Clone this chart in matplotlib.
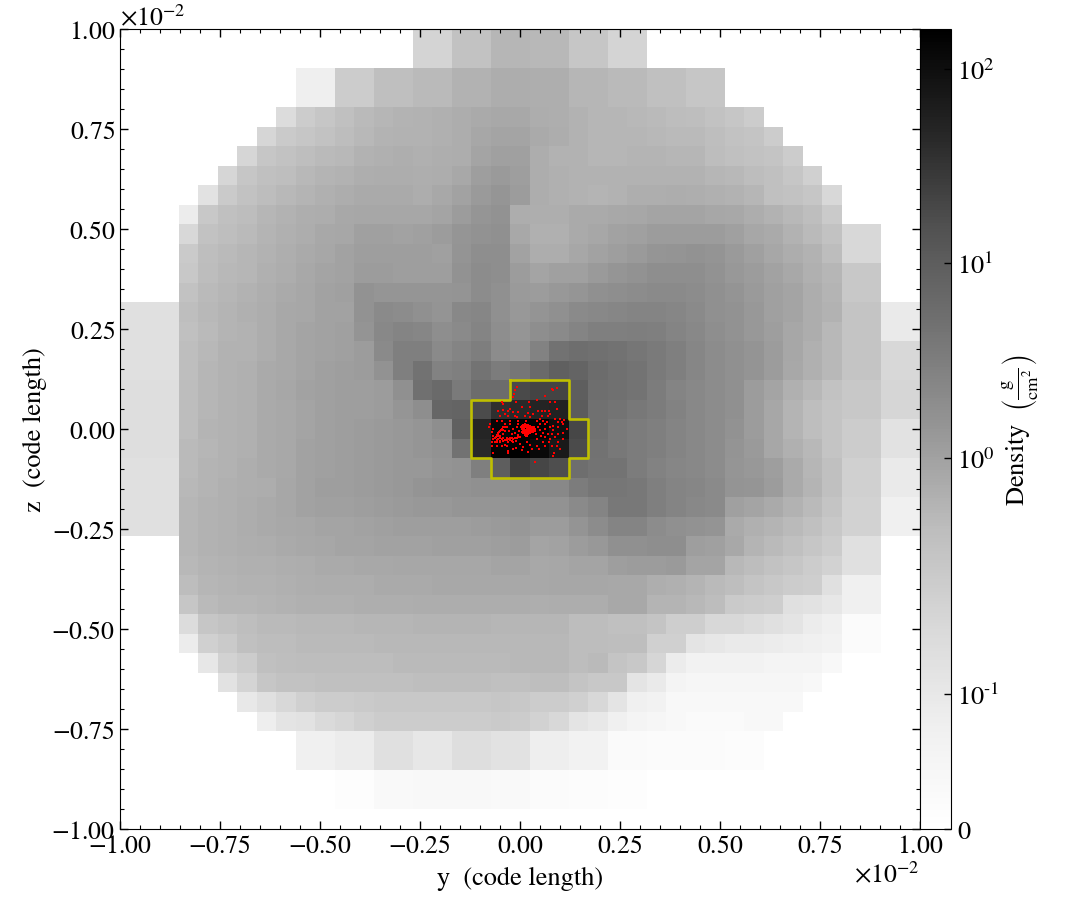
import numpy as np
import matplotlib
matplotlib.use("Agg")
import matplotlib.pyplot as plt
from matplotlib.colors import SymLogNorm

plt.rcParams["font.family"] = ["STIXGeneral", "DejaVu Serif"]
plt.rcParams["mathtext.fontset"] = "stix"

# first filled column of each of the 41 rows (rest of the row is blank)
first_col = [15, 15, 9, 9, 8, 7, 6, 5, 4, 3, 3, 3, 3, 3,
             0, 0, 0, 0, 0, 0, 0, 0, 0, 0, 0, 0,
             3, 3, 3, 3, 3, 3, 4, 5, 6, 7, 9, 9, 11, 11, 0]

# grey level of each cell as seen on the colour bar, top row first
shade = [
    [0xCF,0xCF,0xBE,0xBE,0xB2,0xB2,0xB4,0xB4,0xC2,0xC2,0xD0,0xD0],
    [0xCF,0xCF,0xBE,0xBE,0xB2,0xB2,0xB4,0xB4,0xC2,0xC2,0xD0,0xD0],
    [0xEF,0xEF,0xC8,0xC8,0xBB,0xBB,0xB6,0xB6,0xAE,0xAE,0xA8,0xA8,0xAA,0xAA,0xB2,0xB2,0xB6,0xB6,0xBC,0xBC,0xC2,0xC2],
    [0xEF,0xEF,0xC8,0xC8,0xBB,0xBB,0xB6,0xB6,0xAE,0xAE,0xA8,0xA8,0xAA,0xAA,0xB2,0xB2,0xB6,0xB6,0xBC,0xBC,0xC2,0xC2],
    [0xD8,0xC8,0xC2,0xBC,0xB6,0xB2,0xAF,0xAE,0xAC,0xA8,0xA6,0xA4,0xA4,0xA8,0xAA,0xAE,0xB2,0xB2,0xB4,0xB6,0xB8,0xBA,0xBE,0xC2,0xC8],
    [0xD2,0xC6,0xC2,0xBE,0xB8,0xB3,0xAF,0xAE,0xAD,0xAC,0xA8,0xA2,0xA0,0xA0,0xA6,0xA8,0xAE,0xB2,0xB2,0xB2,0xB4,0xB6,0xB6,0xBA,0xBE,0xC0,0xC8],
    [0xD2,0xC2,0xBE,0xBA,0xB6,0xB3,0xAE,0xAC,0xAA,0xAC,0xAA,0xA8,0xA0,0x9C,0x9C,0xA8,0xAE,0xAE,0xB2,0xB2,0xB0,0xB0,0xB2,0xB2,0xB8,0xBC,0xBE,0xC0,0xC8],
    [0xD2,0xC2,0xBC,0xBA,0xB4,0xB0,0xAE,0xAA,0xA8,0xA8,0xAA,0xA8,0xA4,0x9A,0x96,0x9A,0xA8,0xAC,0xAE,0xAE,0xAE,0xAE,0xAE,0xAE,0xAE,0xB2,0xB4,0xB8,0xBC,0xC2,0xCC],
    [0xE2,0xC6,0xBE,0xB8,0xB4,0xB0,0xAC,0xA8,0xA6,0xA6,0xA6,0xA8,0xA4,0x9E,0x96,0x92,0x98,0xA8,0xAC,0xAE,0xB0,0xAE,0xAA,0xAA,0xA8,0xAA,0xAC,0xAE,0xB2,0xBC,0xBE,0xC2,0xD4],
    [0xEC,0xC4,0xBC,0xB8,0xB2,0xAE,0xAA,0xA8,0xA4,0xA2,0xA2,0xA2,0xA2,0xA0,0x98,0x92,0x8E,0xA8,0xAA,0xAA,0xA6,0xA6,0xA4,0xA2,0xA0,0xA0,0xA0,0xA2,0xA4,0xA8,0xAE,0xB4,0xBA,0xC6],
    [0xD4,0xBE,0xBA,0xB6,0xB0,0xAC,0xA8,0xA4,0xA2,0x9C,0x9C,0x9E,0x9C,0x98,0x92,0x8E,0x8C,0xA4,0xAC,0xAC,0xA6,0xA2,0x9E,0x9C,0x98,0x98,0x98,0x98,0x9C,0xA2,0xA6,0xAE,0xB6,0xBE,0xD4,0xD4],
    [0xC6,0xBA,0xB6,0xB2,0xAE,0xAA,0xA6,0xA2,0x9E,0x9A,0x9A,0x9A,0x9A,0x9C,0x90,0x8A,0x8A,0x9E,0xA8,0xA8,0xA2,0x9E,0x9A,0x96,0x92,0x90,0x8E,0x90,0x96,0x9C,0xA2,0xA8,0xAE,0xB8,0xD4,0xD4],
    [0xC4,0xB8,0xB4,0xB2,0xAC,0xA8,0xA4,0xA0,0x9E,0x98,0x98,0x9A,0x9A,0x9A,0x8E,0x88,0x8A,0x98,0xA0,0x9C,0x9C,0x96,0x92,0x8E,0x8A,0x8A,0x8A,0x8E,0x94,0x98,0x9E,0xA4,0xAC,0xB2,0xC4,0xC4],
    [0xBE,0xB6,0xB2,0xAE,0xAA,0xA6,0xA2,0x9E,0x9C,0x8E,0x92,0x92,0x92,0x92,0x90,0x88,0x8C,0x96,0x98,0x94,0x92,0x8C,0x8A,0x88,0x86,0x86,0x88,0x8C,0x90,0x96,0x9C,0xA0,0xA8,0xB0,0xC4,0xC4],
    [0xE0,0xE0,0xE0,0xBA,0xB4,0xB0,0xAC,0xA8,0xA4,0xA2,0x9E,0x9E,0x8E,0x86,0x88,0x8C,0x90,0x84,0x82,0x8C,0x94,0x90,0x8C,0x86,0x84,0x82,0x80,0x80,0x82,0x86,0x8C,0x8E,0x94,0x9C,0xA0,0xA8,0xAE,0xC0,0xC0,0xEA,0xEA],
    [0xE0,0xE0,0xE0,0xBC,0xB6,0xB0,0xAE,0xA8,0xA4,0xA0,0x9E,0x9C,0x90,0x84,0x80,0x82,0x8A,0x86,0x80,0x8A,0x92,0x8A,0x86,0x80,0x7C,0x7C,0x7A,0x7C,0x80,0x84,0x8A,0x8E,0x94,0x9A,0xA2,0xA8,0xB4,0xC0,0xC0,0xEA,0xEA],
    [0xE0,0xE0,0xE0,0xBA,0xB4,0xAE,0xAE,0xA8,0xA4,0xA0,0x9E,0x9C,0x98,0x86,0x7C,0x7C,0x86,0x80,0x7A,0x88,0x8E,0x7E,0x6E,0x6A,0x6C,0x6E,0x72,0x76,0x7C,0x82,0x88,0x8C,0x90,0x98,0xA2,0xAC,0xB4,0xC0,0xC0,0xD4,0xD4],
    [0xE0,0xE0,0xE0,0xBA,0xB2,0xAE,0xAC,0xA6,0xA4,0xA0,0x9C,0x9A,0x98,0x8E,0x7C,0x6E,0x7E,0x7C,0x70,0x78,0x72,0x66,0x5C,0x60,0x68,0x6C,0x70,0x76,0x7C,0x82,0x88,0x8C,0x90,0x98,0xA4,0xAC,0xB4,0xC0,0xC0,0xD4,0xD4],
    [0xDA,0xDA,0xDA,0xB8,0xB2,0xAE,0xAC,0xA6,0xA2,0x9E,0x9C,0x9A,0x9A,0x98,0x8C,0x6C,0x66,0x76,0x68,0x68,0x4A,0x44,0x44,0x5A,0x6A,0x6C,0x70,0x78,0x80,0x84,0x88,0x8C,0x98,0xA0,0xAC,0xB4,0xBE,0xC4,0xC4,0xD2,0xD2],
    [0xDA,0xDA,0xDA,0xB8,0xB2,0xAE,0xAC,0xA6,0xA4,0xA0,0x9C,0x9A,0x9A,0x98,0x92,0x8A,0x62,0x60,0x4C,0x30,0x2A,0x24,0x22,0x58,0x6C,0x70,0x74,0x78,0x7E,0x84,0x88,0x8C,0x98,0xA2,0xB0,0xBA,0xC0,0xC4,0xC4,0xD2,0xD2],
    [0xDA,0xDA,0xDA,0xB8,0xB0,0xAE,0xAC,0xA6,0xA4,0xA0,0x9C,0x9A,0x98,0x96,0x94,0x92,0x8A,0x5C,0x26,0x06,0x00,0x02,0x10,0x48,0x6C,0x74,0x78,0x7C,0x80,0x84,0x88,0x8E,0x98,0xA2,0xB0,0xBA,0xC0,0xC8,0xC8,0xE2,0xE2],
    [0xDA,0xDA,0xDA,0xB6,0xB2,0xAE,0xAC,0xA6,0xA4,0x9E,0x9C,0x9A,0x98,0x96,0x94,0x92,0x8E,0x6E,0x2A,0x04,0x00,0x0A,0x1A,0x4C,0x6E,0x74,0x78,0x7C,0x80,0x84,0x88,0x90,0x96,0xA2,0xAC,0xB4,0xC0,0xC8,0xC8,0xE2,0xE2],
    [0xE0,0xE0,0xE0,0xB6,0xB0,0xAE,0xAA,0xA6,0xA4,0x9E,0x9C,0x9A,0x98,0x96,0x94,0x94,0x90,0x8E,0x7C,0x5A,0x3E,0x46,0x4E,0x6A,0x70,0x70,0x78,0x7E,0x82,0x84,0x88,0x92,0x94,0x9A,0xA6,0xB2,0xBC,0xCC,0xCC,0xEA,0xEA],
    [0xE0,0xE0,0xE0,0xB4,0xB0,0xAC,0xAA,0xA8,0xA2,0x9E,0x9A,0x9A,0x98,0x96,0x94,0x90,0x8E,0x8E,0x8C,0x8C,0x8C,0x84,0x84,0x78,0x72,0x72,0x74,0x7C,0x80,0x82,0x86,0x90,0x92,0x98,0xA6,0xB0,0xBC,0xCC,0xCC,0xEA,0xEA],
    [0xE0,0xE0,0xE0,0xB2,0xAE,0xAC,0xA8,0xA6,0xA2,0x9E,0x9C,0x9C,0x9A,0x98,0x96,0x94,0x94,0x92,0x92,0x92,0x90,0x8E,0x8E,0x86,0x80,0x74,0x74,0x7C,0x80,0x84,0x86,0x9C,0xA0,0xA6,0xAE,0xB6,0xC0,0xCE,0xCE,0xF0,0xF0],
    [0xE0,0xE0,0xE0,0xB2,0xAE,0xAC,0xA8,0xA6,0xA4,0xA2,0xA0,0xA0,0x9E,0x9C,0x9A,0x9A,0x9A,0x9A,0x98,0x96,0x94,0x98,0x98,0x90,0x88,0x80,0x80,0x88,0x8C,0x8E,0x90,0xA6,0xAC,0xB0,0xB6,0xBC,0xC4,0xCE,0xCE,0xF0,0xF0],
    [0xB2,0xAE,0xAC,0xAA,0xA8,0xA6,0xA4,0xA2,0xA0,0xA0,0x9E,0x9E,0x9E,0x9C,0x9C,0x9C,0x9A,0x98,0xA0,0x9E,0x98,0x94,0x8C,0x8C,0x8A,0x8A,0x9A,0x9C,0xA4,0xB0,0xB6,0xBC,0xC2,0xC8,0xE0,0xE0],
    [0xB4,0xB0,0xAE,0xAC,0xAC,0xAA,0xA8,0xA6,0xA6,0xA4,0xA4,0xA2,0xA2,0xA2,0xA2,0xA2,0xA0,0xA0,0xA4,0xA2,0xA0,0xA0,0x9A,0x98,0x98,0x96,0xA0,0xA0,0xB4,0xB8,0xBE,0xC2,0xC8,0xCE,0xE0,0xE0],
    [0xB8,0xB2,0xB0,0xAE,0xAE,0xAC,0xAA,0xA8,0xA8,0xA8,0xA6,0xA6,0xA6,0xA4,0xA4,0xA4,0xA4,0xA4,0xA4,0xA2,0xA2,0xA2,0xA4,0xA4,0xAA,0xAC,0xB0,0xB6,0xBA,0xC0,0xC4,0xC8,0xCA,0xE0,0xF0,0xF0],
    [0xC2,0xB6,0xB2,0xB2,0xB0,0xAE,0xAC,0xAC,0xAC,0xAA,0xAA,0xAA,0xA8,0xA8,0xA8,0xA8,0xA8,0xA8,0xAA,0xA8,0xA8,0xA8,0xA4,0xA4,0xB0,0xB0,0xB4,0xB8,0xC6,0xC8,0xCA,0xE0,0xE2,0xE6,0xF0,0xF0],
    [0xD8,0xC2,0xBE,0xBA,0xB6,0xB6,0xB4,0xB4,0xB4,0xB2,0xB2,0xB2,0xB0,0xB0,0xB0,0xB0,0xB2,0xB2,0xB2,0xB2,0xB8,0xB8,0xBC,0xBC,0xC0,0xCA,0xCA,0xD4,0xD4,0xD8,0xE0,0xE4,0xEC,0xF0,0xFB,0xFB],
    [0xEC,0xCC,0xC6,0xBC,0xB8,0xB8,0xB6,0xB6,0xB6,0xB6,0xB4,0xB4,0xB4,0xB4,0xB4,0xB4,0xB4,0xB4,0xB4,0xB4,0xB8,0xB8,0xBA,0xBA,0xCC,0xCC,0xE4,0xE6,0xEA,0xEA,0xEC,0xEE,0xF0,0xF2,0xFB,0xFB],
    [0xE6,0xCE,0xC8,0xBC,0xBA,0xB8,0xB8,0xB8,0xB8,0xB8,0xB6,0xB6,0xB6,0xB6,0xB6,0xB6,0xB4,0xB4,0xB4,0xB8,0xB6,0xC0,0xC4,0xD2,0xEC,0xF2,0xF2,0xF2,0xF2,0xF4,0xF4,0xF4,0xF8],
    [0xE2,0xD0,0xC2,0xBE,0xBE,0xBC,0xBC,0xBC,0xBC,0xBC,0xBA,0xBA,0xBA,0xBA,0xBC,0xBC,0xBA,0xBA,0xC0,0xC4,0xC4,0xE4,0xEA,0xF4,0xF6,0xF6,0xF6,0xF6,0xF6,0xF6,0xF8],
    [0xE8,0xDC,0xD4,0xCC,0xC8,0xC8,0xC6,0xC4,0xC4,0xC4,0xC4,0xC4,0xC4,0xC2,0xC4,0xC8,0xC8,0xCC,0xD4,0xE4,0xF0,0xF2,0xF8,0xF8,0xF8,0xF8,0xF8,0xF8,0xF8],
    [0xEE,0xE4,0xDE,0xD6,0xD2,0xCC,0xC8,0xC8,0xC8,0xC8,0xC8,0xC8,0xC6,0xC8,0xCE,0xD4,0xE4,0xE8,0xF0,0xF4,0xF6,0xF8,0xFA,0xFA,0xFA,0xF8,0xF8],
    [0xF0,0xF0,0xEC,0xEC,0xE0,0xE0,0xE6,0xE6,0xDA,0xDA,0xE2,0xE2,0xEE,0xEE,0xF2,0xF2,0xFA,0xFA,0xFB,0xFB,0xFB,0xFB,0xFC,0xFC],
    [0xF0,0xF0,0xEC,0xEC,0xE0,0xE0,0xE6,0xE6,0xDA,0xDA,0xE2,0xE2,0xEE,0xEE,0xF2,0xF2,0xFA,0xFA,0xFB,0xFB,0xFB,0xFB,0xFC,0xFC],
    [0xFD,0xFD,0xF9,0xF9,0xF8,0xF8,0xF8,0xF8,0xF9,0xF9,0xFB,0xFB,0xFC,0xFC,0xFD,0xFD],
    [0xFD,0xFD,0xF9,0xF9,0xF8,0xF8,0xF8,0xF8,0xF9,0xF9,0xFB,0xFB,0xFC,0xFC,0xFD,0xFD],
    [],
]

# outline of the yellow contour, in units of 1e-2
contour_y = [-0.024, 0.122, 0.122, 0.171, 0.171, 0.122, 0.122, -0.073, -0.073, -0.122, -0.122, -0.024, -0.024]
contour_z = [0.122, 0.122, 0.024, 0.024, -0.073, -0.073, -0.122, -0.122, -0.073, -0.073, 0.073, 0.073, 0.122]

# particles, in units of 1e-2
particle_y = [-.008,-.012,-.015,-.017,.080,.093,.083,.063,-.046,-.042,.042,.023,.075,.088,-.010,.004,.025,-.025,-.054,-.042,
              -.029,-.017,-.004,.021,.033,.046,.054,.063,.073,.075,.092,.088,.100,.110,-.050,-.013,-.029,.025,.050,.071,
              -.058,-.046,-.025,-.004,.015,.043,.058,.068,.104,.108,-.075,-.077,-.038,-.025,-.004,.050,.063,.083,.096,.117,.107,
              .004,.008,.013,.017,.021,.025,.029,.032,.033,.029,.025,.021,.018,.015,.012,.008,.007,.004,.010,.015,.020,.025,
              .013,.018,.023,.015,.020,.010,.028,.013,.017,.022,.027,.008,.012,
              -.038,-.046,-.050,-.054,-.058,-.060,-.054,-.042,-.033,-.025,-.017,-.008,.000,-.067,-.071,-.063,-.050,-.038,-.046,
              -.029,-.021,-.010,-.004,-.042,-.033,-.050,-.057,-.032,-.017,.004,.008,.025,.029,.043,.048,.042,.052,.063,.071,.079,
              .050,.040,.058,.075,.088,.096,.108,.092,.079,.073,.038,.046,.063,.075,-.029,-.029,-.068,-.010,.021,.085,.096,.038,.082,
              -.042,-.043,-.048,-.052,-.056,-.058,-.063,-.050,-.046,-.038,-.029,-.021,-.013,-.004,-.042,-.033,-.025,-.058,-.050,-.054,
              -.068,-.071,-.067,-.038,-.027,-.021,-.013,-.017,-.008,-.002,
              .007,.010,.018,.023,.028,.030,.010,.017,.022,.012,.018,.023,.015,.005,.003,.032,.035,.038,
              -.071,-.058,-.017,.000,.017,.058,.063,.100,.083,.096,.054,.013,-.008,-.038]
particle_z = [.104,.098,.088,.079,.100,.103,.098,.083,.068,.063,.073,.068,.068,.068,.067,.054,.056,.050,.046,.048,
              .046,.042,.042,.040,.038,.044,.046,.046,.044,.038,.050,.025,.025,.023,.033,.032,.033,.029,.025,.033,
              .021,.021,.021,.021,.021,.021,.021,.017,.017,.013,.013,.004,.013,.013,.013,.013,.013,.008,.004,.000,-.010,
              .008,.010,.012,.011,.009,.008,.004,.000,-.004,-.007,-.010,-.013,-.017,-.018,-.015,-.010,-.004,.000,.004,.004,.004,.002,
              -.002,-.002,-.003,-.007,-.008,-.005,-.002,-.012,-.010,.008,-.005,.004,.008,
              .004,.000,-.004,-.010,-.015,-.021,-.025,-.023,-.023,-.023,-.025,-.023,-.021,-.025,-.032,-.032,-.033,-.040,-.043,
              -.033,-.029,-.029,-.015,-.013,.004,-.017,-.033,-.043,-.033,-.052,-.046,-.040,-.050,-.043,-.050,-.025,-.018,-.021,-.013,-.013,
              -.002,-.013,-.010,-.025,-.021,-.013,-.025,-.043,-.043,-.033,-.004,.004,.000,.004,-.054,-.061,-.061,-.048,-.058,-.060,-.033,-.082,-.067,
              .004,-.002,-.002,-.007,-.013,-.018,-.023,-.022,-.025,-.027,-.025,-.023,-.022,-.020,-.029,-.028,-.028,-.028,-.029,-.018,
              -.018,-.008,.000,-.004,-.004,-.013,-.010,.000,.004,-.004,
              .010,.007,.008,.007,.002,-.003,.000,.002,.000,-.008,-.013,-.007,-.015,-.007,.005,-.008,.004,.000,
              -.043,-.043,-.050,-.037,-.033,-.033,-.043,-.050,-.002,.017,.033,.033,.029,.038]

cbar_ticks = [0, 1e-1, 1e0, 1e1, 1e2]
cbar_labels = ["0", r"10$^{\text{-}1}$", r"10$^{0}$", r"10$^{1}$", r"10$^{2}$"]

W, H = 1084, 920
fig = plt.figure(figsize=(W / 100, H / 100), dpi=100)
ax = fig.add_axes([120 / W, 90 / H, 800 / W, 800 / H])
cax = fig.add_axes([920 / W, 90 / H, 30.5 / W, 800 / H])

norm = SymLogNorm(linthresh=0.16, linscale=1.0, vmin=0, vmax=160, base=10)
cmap = plt.get_cmap("Greys").copy()
cmap.set_bad("white")

pos = np.linspace(0, 1, 1024)
greys = cmap(pos)[:, 0] * 255
grid = np.full((41, 41), np.nan)
for j, row in enumerate(shade):
    grid[j, first_col[j]:first_col[j] + len(row)] = row
# my readings of the mid greys came out a touch dark
grid = np.where((grid >= 0x50) & (grid < 0xE0), grid + 4, grid)
density = np.asarray(norm.inverse(np.interp(grid, greys[::-1], pos[::-1])))
density = np.ma.masked_invalid(np.where(np.isnan(grid), np.nan, density))

edges = np.linspace(-0.01, 0.01, 42)
mesh = ax.pcolormesh(edges, edges[::-1], density, cmap=cmap, norm=norm, antialiased=False, rasterized=True)

ax.plot(np.array(contour_y) * 1e-2, np.array(contour_z) * 1e-2, color="y", lw=1.9, solid_joinstyle="round")
ax.scatter(np.array(particle_y) * 1e-2, np.array(particle_z) * 1e-2, s=2.5, c="red", marker="s", linewidths=0, zorder=3)

ax.set_xlim(-0.01, 0.01)
ax.set_ylim(-0.01, 0.01)
ax.set_xticks(np.arange(-0.01, 0.0101, 0.0025))
ax.set_yticks(np.arange(-0.01, 0.0101, 0.0025))
ax.set_xticks(np.arange(-0.01, 0.0101, 0.0005), minor=True)
ax.set_yticks(np.arange(-0.01, 0.0101, 0.0005), minor=True)
ax.ticklabel_format(style="sci", scilimits=(-2, -2), useMathText=True)
ax.tick_params(which="both", direction="in", top=True, right=True, labelsize=18.5)
ax.tick_params(which="major", length=6, width=1)
ax.tick_params(which="minor", length=3, width=0.8)
ax.xaxis.get_offset_text().set_fontsize(18.5)
ax.yaxis.get_offset_text().set_fontsize(18.5)
ax.set_xlabel("y  (code length)", fontsize=19, labelpad=6)
ax.set_ylabel("z  (code length)", fontsize=19, labelpad=3)

cb = fig.colorbar(mesh, cax=cax, ticks=cbar_ticks)
cb.set_ticklabels(cbar_labels)
cb.minorticks_off()
cax.tick_params(which="major", direction="in", length=5, width=1, labelsize=19, pad=5)
cb.set_label(r"Density  $\left(\frac{\mathrm{g}}{\mathrm{cm}^{2}}\right)$", fontsize=19, labelpad=0)

fig.savefig("out.png", dpi=100)
